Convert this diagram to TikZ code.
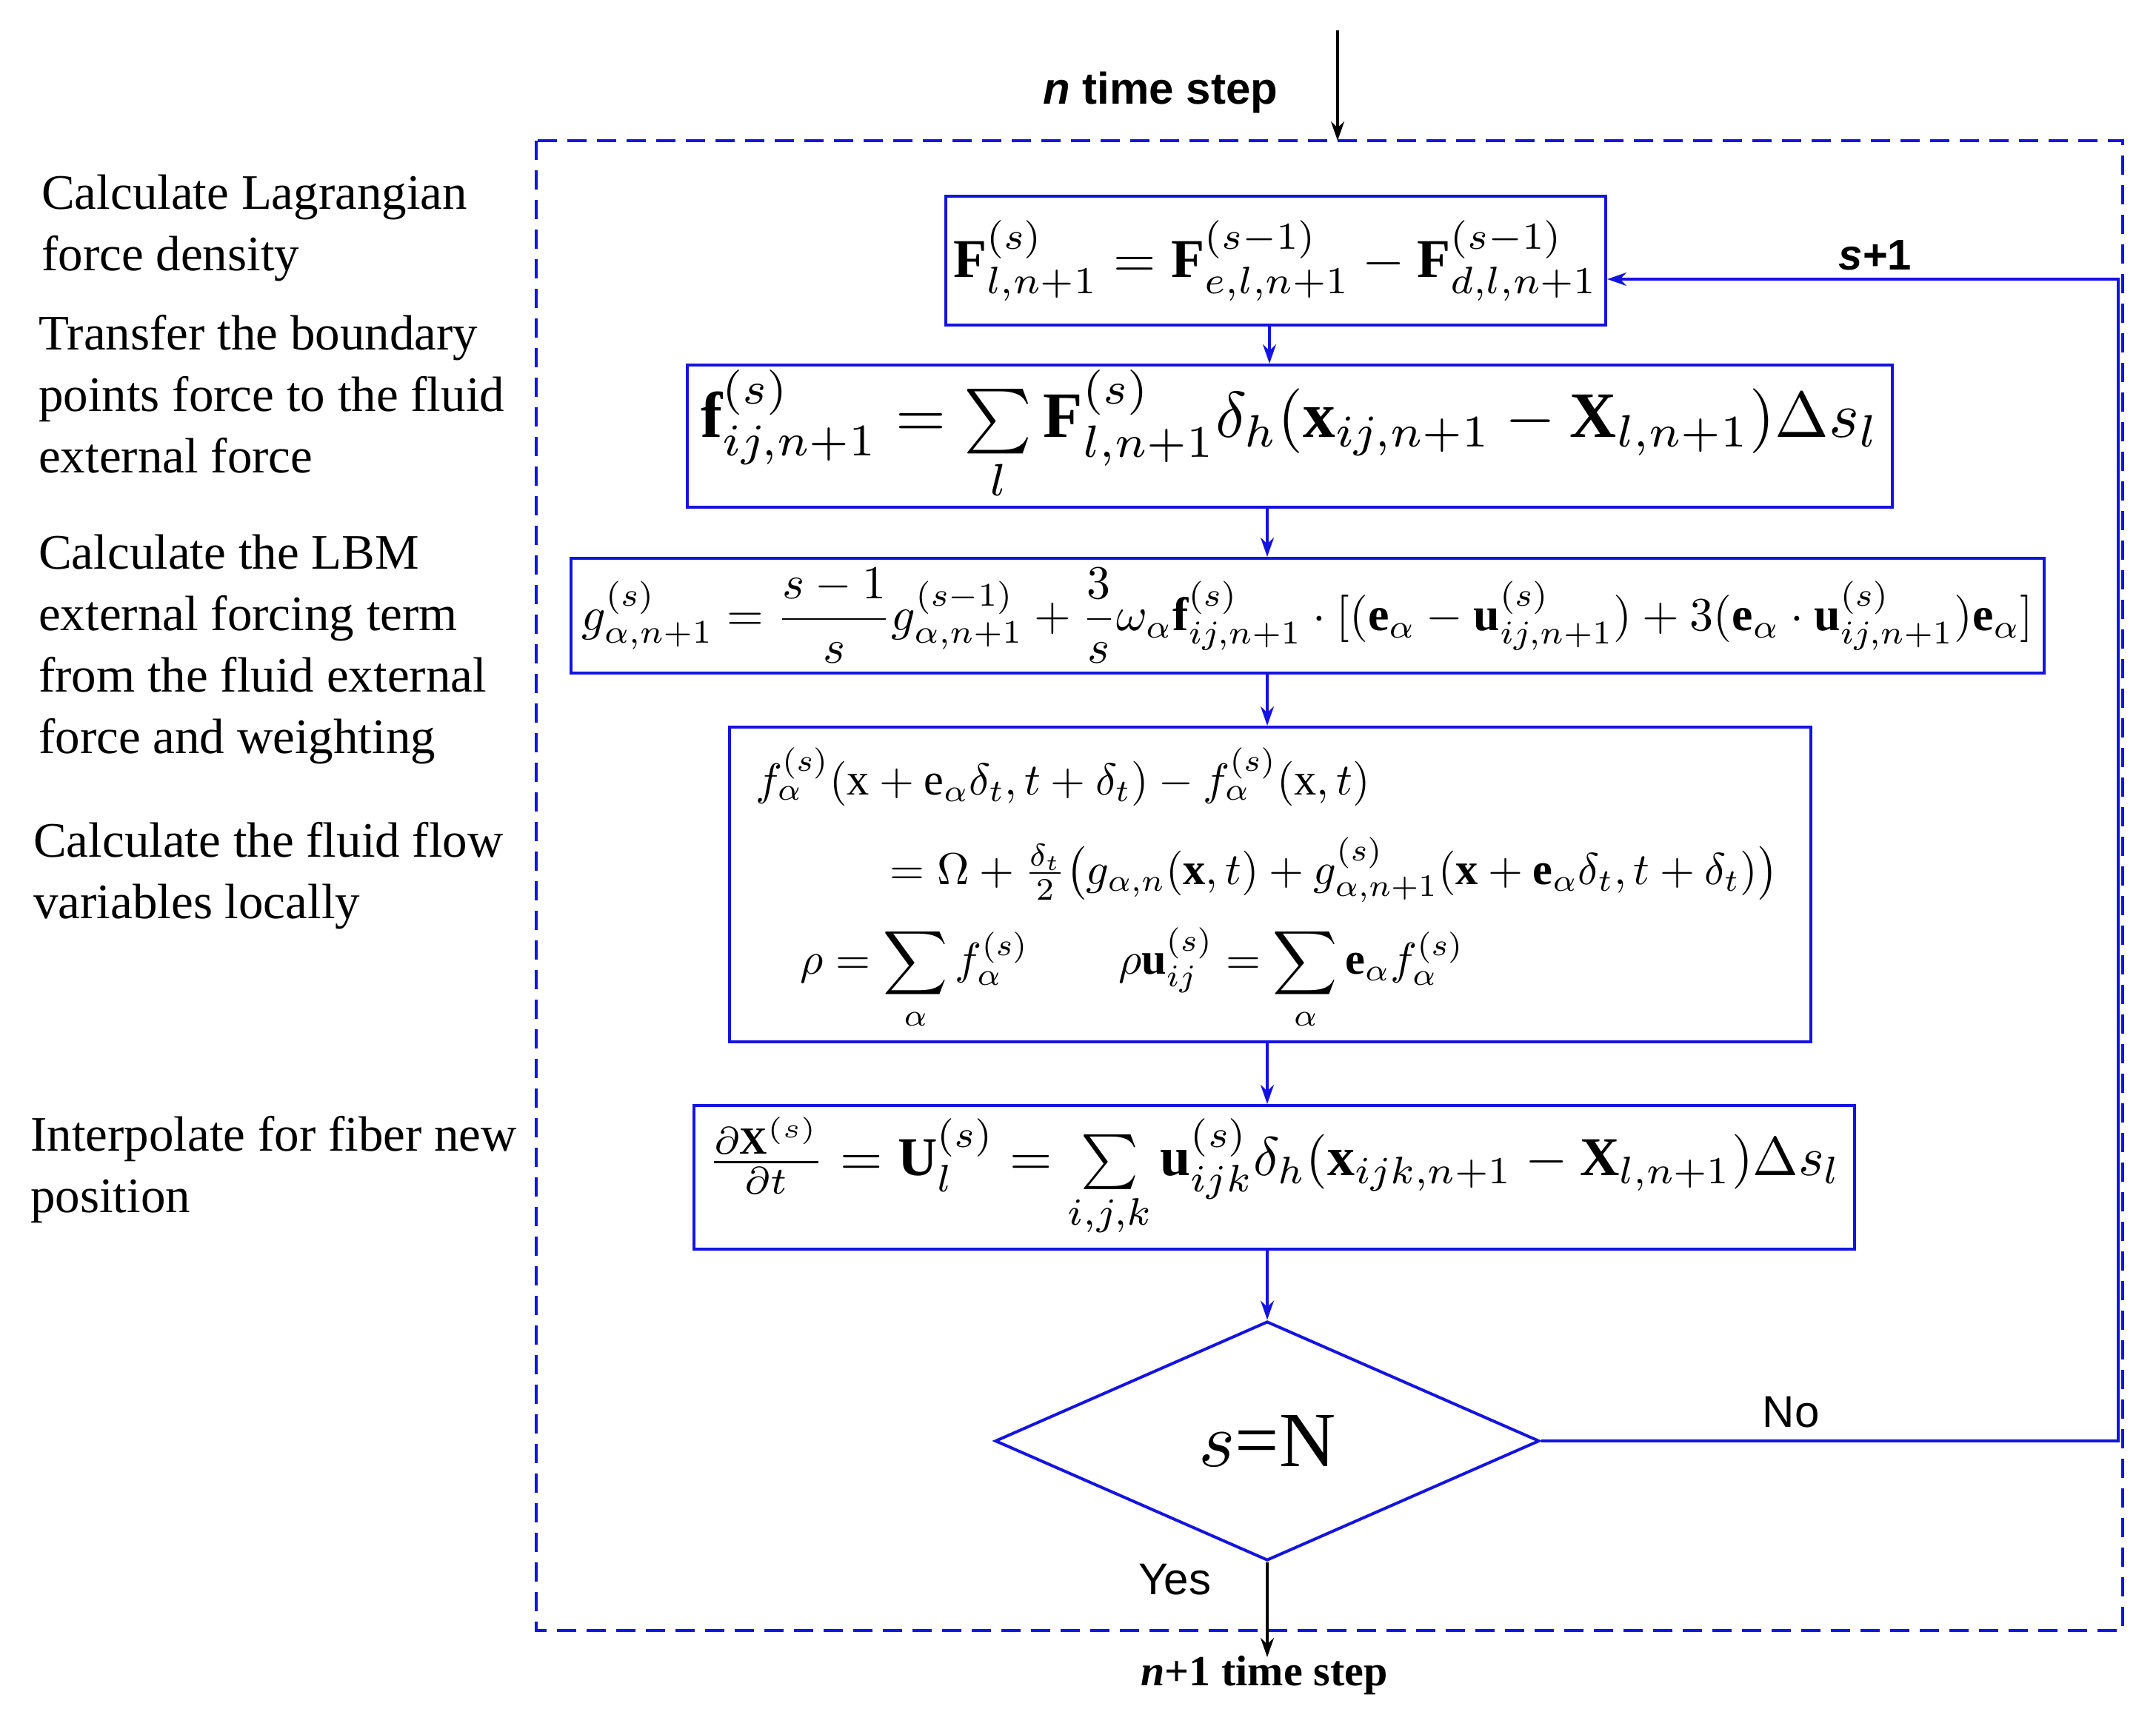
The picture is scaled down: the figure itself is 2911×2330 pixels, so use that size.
\documentclass[tikz,border=0pt]{standalone}
\usepackage{amsmath}
\usepackage{fontspec}
\setmainfont{Liberation Serif}
\newfontfamily\sansf{Liberation Sans}
\usetikzlibrary{shapes.geometric,arrows.meta}
\definecolor{fb}{RGB}{20,20,225}
\tikzset{
  box/.style={draw=fb,line width=4pt,inner sep=0pt,anchor=north west},
  flow/.style={draw=fb,line width=3.5pt,-{Stealth[length=26pt,width=18pt]}},
  side/.style={anchor=north west,align=left,font=\fontsize{67}{83}\selectfont,inner sep=0pt},
}
\begin{document}
\begin{tikzpicture}[x=1pt,y=-1pt]
\useasboundingbox (0,0) rectangle (2911,2330);
% outer dashed frame
\draw[fb,line width=4.5pt,dash pattern=on 26pt off 14pt] (724,190) rectangle (2866,2202);
% boxes
\node[box,minimum width=891pt,minimum height=174pt] (b1) at (1275,263) {};
\node at (b1.center) {\resizebox{871pt}{!}{$\mathbf{F}^{(s)}_{l,n+1}=\mathbf{F}^{(s-1)}_{e,l,n+1}-\mathbf{F}^{(s-1)}_{d,l,n+1}$}};
\node[box,minimum width=1627pt,minimum height=192pt] (b2) at (926,491) {};
\node at (b2.center) {\resizebox{1590pt}{!}{$\mathbf{f}^{(s)}_{ij,n+1}=\sum\limits_l\mathbf{F}^{(s)}_{l,n+1}\delta_h(\mathbf{x}_{ij,n+1}-\mathbf{X}_{l,n+1})\Delta s_l$}};
\node[box,minimum width=1989pt,minimum height=155pt] (b3) at (769,752) {};
\node at (b3.center) {\resizebox{1960pt}{!}{$\displaystyle g^{(s)}_{\alpha,n+1}=\frac{s-1}{s}g^{(s-1)}_{\alpha,n+1}+\frac{3}{s}\omega_\alpha\mathbf{f}^{(s)}_{ij,n+1}\cdot[(\mathbf{e}_\alpha-\mathbf{u}^{(s)}_{ij,n+1})+3(\mathbf{e}_\alpha\cdot\mathbf{u}^{(s)}_{ij,n+1})\mathbf{e}_\alpha]$}};
\node[box,minimum width=1460pt,minimum height=425pt] (b4) at (983,980) {};
\node[anchor=north west,inner sep=0pt] at (990,1010) {\resizebox{1440pt}{!}{$\begin{array}{l}
f^{(s)}_\alpha(\mathrm{x}+\mathrm{e}_\alpha\delta_t,t+\delta_t)-f^{(s)}_\alpha(\mathrm{x},t)\\[6pt]
\qquad\quad=\Omega+\frac{\delta_t}{2}\big(g_{\alpha,n}(\mathbf{x},t)+g^{(s)}_{\alpha,n+1}(\mathbf{x}+\mathbf{e}_\alpha\delta_t,t+\delta_t)\big)\\[6pt]
\quad\displaystyle\rho=\sum_\alpha f^{(s)}_\alpha\qquad\rho\mathbf{u}^{(s)}_{ij}=\sum_\alpha\mathbf{e}_\alpha f^{(s)}_\alpha
\end{array}$}};
\node[box,minimum width=1567pt,minimum height=194pt] (b5) at (935,1491) {};
\node at (b5.center) {\resizebox{1530pt}{!}{$\frac{\partial\mathbf{X}^{(s)}}{\partial t}=\mathbf{U}^{(s)}_l=\sum\limits_{i,j,k}\mathbf{u}^{(s)}_{ijk}\delta_h(\mathbf{x}_{ijk,n+1}-\mathbf{X}_{l,n+1})\Delta s_l$}};
% diamond
\node[draw=fb,line width=4pt,diamond,shape aspect=2.28,minimum width=735pt,minimum height=323pt,inner sep=0pt] (d) at (1711,1946) {\resizebox{185pt}{!}{$s$=N}};
% arrows
\coordinate (top) at (1806,41);
\coordinate (topend) at (1806,190);
\draw[line width=3.5pt,-{Stealth[length=26pt,width=18pt]}] (top) -- (topend);
\draw[flow] (b1.south -| 1714,0) -- (b2.north -| 1714,0);
\draw[flow] (b2.south -| 1711,0) -- (b3.north -| 1711,0);
\draw[flow] (b3.south -| 1711,0) -- (b4.north -| 1711,0);
\draw[flow] (b4.south -| 1711,0) -- (b5.north -| 1711,0);
\draw[flow] (b5.south -| 1711,0) -- (d.north);
\coordinate (c1) at (2860,1946);
\coordinate (c2) at (2860,377);
\draw[flow] (d.east) -- (c1) -- (c2) -- (b1.east |- c2);
\coordinate (out) at (1711,2238);
\draw[line width=3.5pt,-{Stealth[length=26pt,width=18pt]}] (d.south) -- (out);
% labels
\node[font=\sansf\bfseries\fontsize{60}{64}\selectfont] (nt) at (1567,125) {\textit{n} time step};
\node[font=\bfseries\fontsize{58}{64}\selectfont] (n1) at (1707,2263) {\textit{n}+1 time step};
\node[font=\sansf\bfseries\fontsize{58}{64}\selectfont] (sp) at (2532,345) {\textit{s}+1};
\node[font=\sansf\fontsize{60}{64}\selectfont] (no) at (2418,1907) {No};
\node[font=\sansf\fontsize{60}{64}\selectfont] (yes) at (1586,2133) {Yes};
% side texts
\node[side] (t1) at (56,236) {Calculate Lagrangian\\force density};
\node[side] (t2) at (52,425) {Transfer the boundary\\points force to the fluid\\external force};
\node[side] (t3) at (52,722) {Calculate the LBM\\external forcing term\\from the fluid external\\force and weighting};
\node[side] (t4) at (45,1110) {Calculate the fluid flow\\variables locally};
\node[side] (t5) at (41,1507) {Interpolate for fiber new\\position};
\end{tikzpicture}
\end{document}
